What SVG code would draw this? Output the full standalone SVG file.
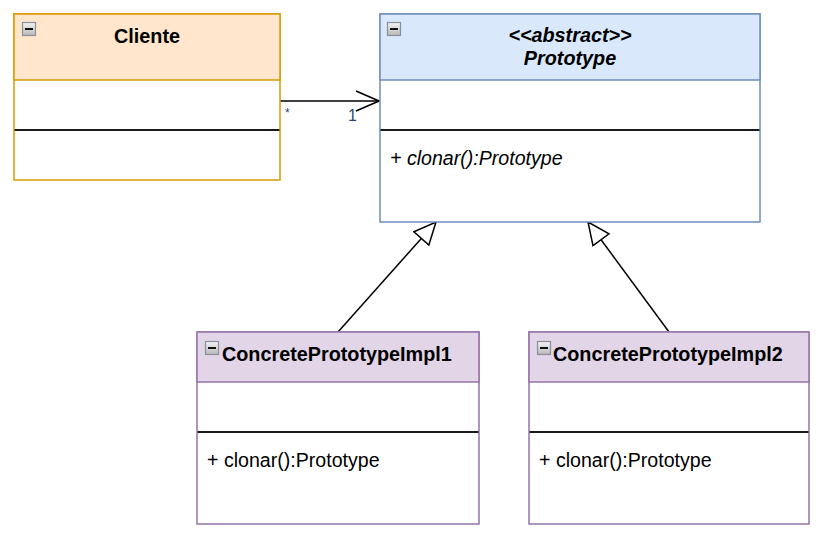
<svg xmlns="http://www.w3.org/2000/svg" width="822" height="537" viewBox="0 0 822 537">
<style>
text{font-family:"Liberation Sans",Arial,sans-serif;fill:#000}
.title{font-size:19.8px;font-weight:bold}
.member{font-size:19.6px}
.ital{font-style:italic}
.body{fill:#fff}
.div{stroke:#1a1a1a;stroke-width:2}
.orange{stroke:#d79b00;stroke-width:1.5}
.blue{stroke:#6c8ebf;stroke-width:1.5}
.purple{stroke:#9673a6;stroke-width:1.5}
.edge{fill:none;stroke:#000;stroke-width:1.5}
.lbl{font-size:16px;fill:#1d4a78}
</style>
<defs>
<linearGradient id="ig" x1="0" y1="0" x2="0" y2="1">
<stop offset="0" stop-color="#f4f4f4"/>
<stop offset="1" stop-color="#b8b8b8"/>
</linearGradient>
<g id="minus">
<rect x="0.5" y="0.5" width="13" height="13" fill="url(#ig)" stroke="#8a8f99" stroke-width="1.2"/>
<line x1="3" y1="7" x2="11" y2="7" stroke="#111" stroke-width="2"/>
</g>
<marker id="tri" viewBox="-1 -1 24 22" refX="22" refY="10" markerWidth="24" markerHeight="22" markerUnits="userSpaceOnUse" orient="auto">
<path d="M0,0 L22,10 L0,20 Z" fill="#fff" stroke="#000" stroke-width="1.5"/>
</marker>
<marker id="open" viewBox="-1 -1 25 22" refX="23" refY="10" markerWidth="25" markerHeight="22" markerUnits="userSpaceOnUse" orient="auto">
<path d="M0,0 L23,10 L0,20" fill="none" stroke="#000" stroke-width="1.5"/>
</marker>
</defs>

<g id="connectors">
<g id="assoc">
<path class="edge" d="M280,101 L379,101" marker-end="url(#open)"/>
<text class="lbl" x="285" y="117" style="font-size:12px">*</text>
<text class="lbl" x="348" y="121">1</text>
</g>
<path id="gen1" class="edge" d="M338,332 L436,222" marker-end="url(#tri)"/>
<path id="gen2" class="edge" d="M669,332 L588,222" marker-end="url(#tri)"/>
</g>

<g id="Cliente">
<rect x="14" y="14" width="266" height="166" class="body orange"/>
<rect x="14" y="14" width="266" height="66" fill="#ffe6cc" class="orange"/>
<line x1="14.5" y1="130" x2="279.5" y2="130" class="div"/>
<use href="#minus" x="22" y="22"/>
<text class="title" x="147" y="43" text-anchor="middle">Cliente</text>
</g>

<g id="Prototype">
<rect x="380" y="14" width="380" height="208" class="body blue"/>
<rect x="380" y="14" width="380" height="66" fill="#dae8fc" class="blue"/>
<line x1="380.5" y1="130" x2="759.5" y2="130" class="div"/>
<use href="#minus" x="387" y="22"/>
<text class="title ital" x="570" y="42" text-anchor="middle">&lt;&lt;abstract&gt;&gt;</text>
<text class="title ital" x="570" y="65" text-anchor="middle">Prototype</text>
<text class="member ital" x="390" y="165">+ clonar():Prototype</text>
</g>

<g id="ConcretePrototypeImpl1">
<rect x="197" y="332" width="282" height="192" class="body purple"/>
<rect x="197" y="332" width="282" height="50" fill="#e1d5e7" class="purple"/>
<line x1="197.5" y1="432" x2="478.5" y2="432" class="div"/>
<use href="#minus" x="205" y="341"/>
<text class="title" x="222" y="361">ConcretePrototypeImpl1</text>
<text class="member" x="207" y="467">+ clonar():Prototype</text>
</g>

<g id="ConcretePrototypeImpl2">
<rect x="529" y="332" width="280" height="192" class="body purple"/>
<rect x="529" y="332" width="280" height="50" fill="#e1d5e7" class="purple"/>
<line x1="529.5" y1="432" x2="808.5" y2="432" class="div"/>
<use href="#minus" x="537" y="341"/>
<text class="title" x="553" y="361">ConcretePrototypeImpl2</text>
<text class="member" x="539" y="467">+ clonar():Prototype</text>
</g>
</svg>
